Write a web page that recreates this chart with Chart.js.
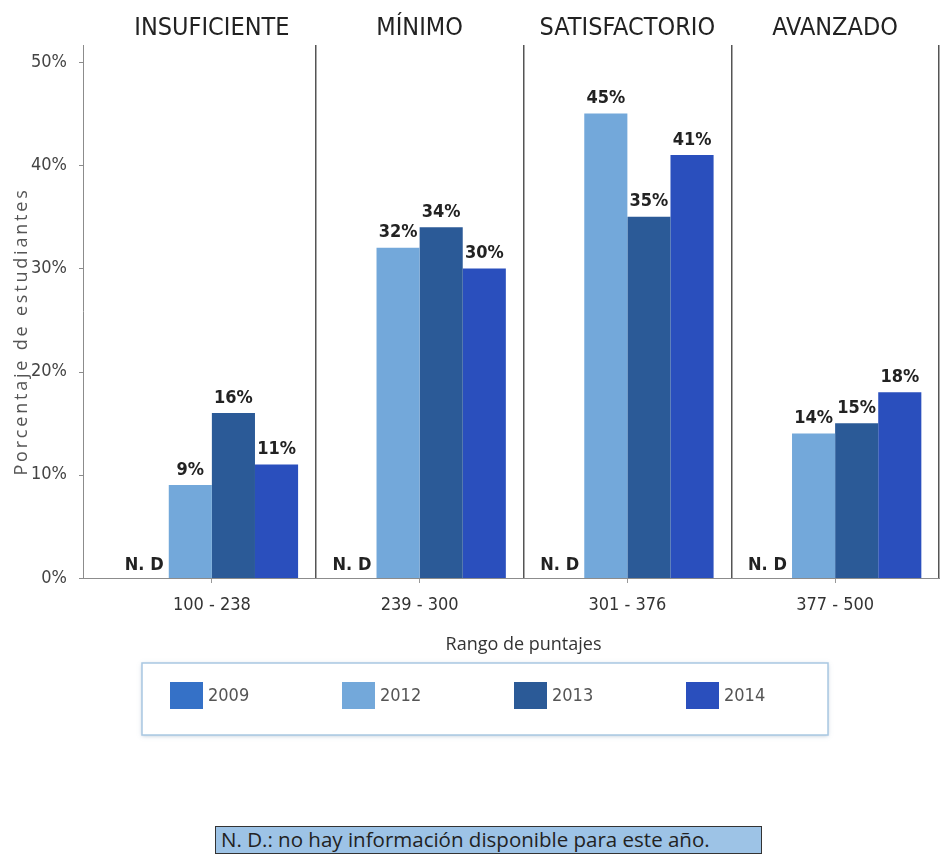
<!DOCTYPE html>
<html>
<head>
<meta charset="utf-8">
<script src="https://cdn.jsdelivr.net/npm/chart.js@4.4.1/dist/chart.umd.min.js"></script>
<style>
  body { margin: 0; background: #fff; }
  #wrap { position: relative; width: 944px; height: 854px; }
  #box { position: absolute; left: 0; top: 0; width: 944px; height: 770px; }
  #nota {
    position: absolute; left: 215px; top: 826px; width: 547px; height: 28px;
    background: #9dc3e6; border: 1px solid #333; box-sizing: border-box;
    font: 20.5px "Open Sans", sans-serif; color: #222; line-height: 25px; padding-left: 5px;
    white-space: nowrap; overflow: hidden;
  }
</style>
</head>
<body>
<div id="wrap">
  <div id="box"><canvas id="myChart"></canvas></div>
  <div id="nota">N. D.: no hay información disponible para este año.</div>
</div>
<script>
/* global Chart */

// niveles de desempeño y rangos de puntaje
let levels = ['INSUFICIENTE', 'MÍNIMO', 'SATISFACTORIO', 'AVANZADO'];
let ranges = ['100 - 238', '239 - 300', '301 - 376', '377 - 500'];
let years = ['2009', '2012', '2013', '2014'];

// porcentajes por año (null = N. D)
let v2009 = [null, null, null, null];
let v2012 = [9, 32, 45, 14];
let v2013 = [16, 34, 35, 15];
let v2014 = [11, 30, 41, 18];

let yTicks = [0, 10, 20, 30, 40, 50];
let colors = ['#3571c7', '#73a8da', '#2b5a97', '#2a4fbd'];

let narrow = '"Liberation Sans Narrow", "DejaVu Sans Condensed", sans-serif';

var decor = {
  id: 'decor',
  afterDraw(chart) {
    var ctx = chart.ctx;
    var area = chart.chartArea;
    var y = chart.scales.y;
    var axisX = area.left - 25;

    ctx.save();
    // eje y
    ctx.strokeStyle = '#8c8c8c';
    ctx.lineWidth = 1;
    ctx.beginPath();
    ctx.moveTo(axisX + 0.5, area.top);
    ctx.lineTo(axisX + 0.5, area.bottom);
    ctx.moveTo(axisX, area.bottom + 0.5);
    ctx.lineTo(area.left, area.bottom + 0.5);
    y.ticks.forEach(function (t) {
      var py = Math.round(y.getPixelForValue(t.value)) + 0.5;
      ctx.moveTo(axisX - 4, py);
      ctx.lineTo(axisX, py);
    });
    ctx.stroke();

    // título eje y
    ctx.save();
    ctx.translate(22, (area.top + area.bottom) / 2 + 20);
    ctx.rotate(-Math.PI / 2);
    ctx.font = '18px "Open Sans", sans-serif';
    ctx.letterSpacing = '2.8px';
    ctx.fillStyle = '#555';
    ctx.textAlign = 'center';
    ctx.textBaseline = 'middle';
    ctx.fillText('Porcentaje de estudiantes', 0, 0);
    ctx.restore();

    // etiquetas de datos
    ctx.font = 'bold 18px ' + narrow;
    ctx.fillStyle = '#222';
    ctx.textAlign = 'center';
    ctx.textBaseline = 'bottom';
    chart.data.datasets.forEach(function (ds, i) {
      var meta = chart.getDatasetMeta(i);
      meta.data.forEach(function (bar, j) {
        var v = ds.data[j];
        if (v == null) {
          ctx.fillText('N. D', bar.x - 3, area.bottom - 4);
        } else {
          ctx.fillText(v + '%', bar.x, bar.y - 6);
        }
      });
    });

    // leyenda
    var boxL = 142, boxT = 663, boxW = 686, boxH = 72;
    ctx.shadowColor = 'rgba(120,150,180,0.5)';
    ctx.shadowBlur = 4;
    ctx.shadowOffsetY = 1;
    ctx.fillStyle = '#fff';
    ctx.fillRect(boxL, boxT, boxW, boxH);
    ctx.shadowColor = 'transparent';
    ctx.strokeStyle = '#a9c8e2';
    ctx.lineWidth = 1.5;
    ctx.strokeRect(boxL, boxT, boxW, boxH);
    ctx.font = '18px ' + narrow;
    ctx.textAlign = 'left';
    ctx.textBaseline = 'middle';
    chart.data.datasets.forEach(function (ds, i) {
      var lx = boxL + 28 + i * 172;
      var ly = boxT + 19;
      ctx.fillStyle = ds.backgroundColor;
      ctx.fillRect(lx, ly, 33, 27);
      ctx.fillStyle = '#555';
      ctx.fillText(ds.label, lx + 38, ly + 14);
    });
    ctx.restore();
  }
};

var ctx = document.getElementById('myChart').getContext('2d');
var myChart = new Chart(ctx, {
  type: 'bar',
  data: {
    labels: ranges,
    datasets: [
      { label: years[0], data: v2009, backgroundColor: colors[0] },
      { label: years[1], data: v2012, backgroundColor: colors[1] },
      { label: years[2], data: v2013, backgroundColor: colors[2] },
      { label: years[3], data: v2014, backgroundColor: colors[3] }
    ]
  },
  plugins: [decor],
  options: {
    responsive: true,
    maintainAspectRatio: false,
    animation: false,
    layout: { padding: { left: 0, right: 5, top: 0, bottom: 110 } },
    datasets: { bar: { barPercentage: 1, categoryPercentage: 0.83, borderWidth: 0 } },
    plugins: {
      legend: { display: false },
      tooltip: { enabled: false }
    },
    scales: {
      x: {
        grid: { display: true, offset: false, drawOnChartArea: false, tickLength: 5, color: '#999' },
        border: { color: '#8c8c8c' },
        ticks: { font: { family: narrow, size: 18 }, color: '#333', padding: 12 },
        title: { display: true, text: 'Rango de puntajes', font: { family: '"Open Sans", sans-serif', size: 18 }, color: '#333', padding: { top: 6 } },
        afterFit: function (s) { s.height = 82; }
      },
      x2: {
        type: 'category',
        position: 'top',
        labels: levels,
        offset: true,
        grid: {
          offset: true,
          drawTicks: false,
          lineWidth: 1.5,
          color: function (c) { return c.index === 0 ? 'transparent' : '#555'; }
        },
        border: { display: false },
        ticks: { font: { family: narrow, size: 25 }, color: '#222', padding: 2 },
        afterFit: function (s) { s.height = 45; }
      },
      y: {
        min: 0,
        max: 51.65,
        grid: { display: false },
        border: { display: false },
        ticks: {
          font: { family: narrow, size: 18 },
          color: '#444',
          padding: 33,
          callback: function (v) { return v + '%'; }
        },
        afterBuildTicks: function (s) { s.ticks = yTicks.map(function (v) { return { value: v }; }); },
        afterFit: function (s) { s.width = 108; }
      }
    }
  }
});
</script>
</body>
</html>
